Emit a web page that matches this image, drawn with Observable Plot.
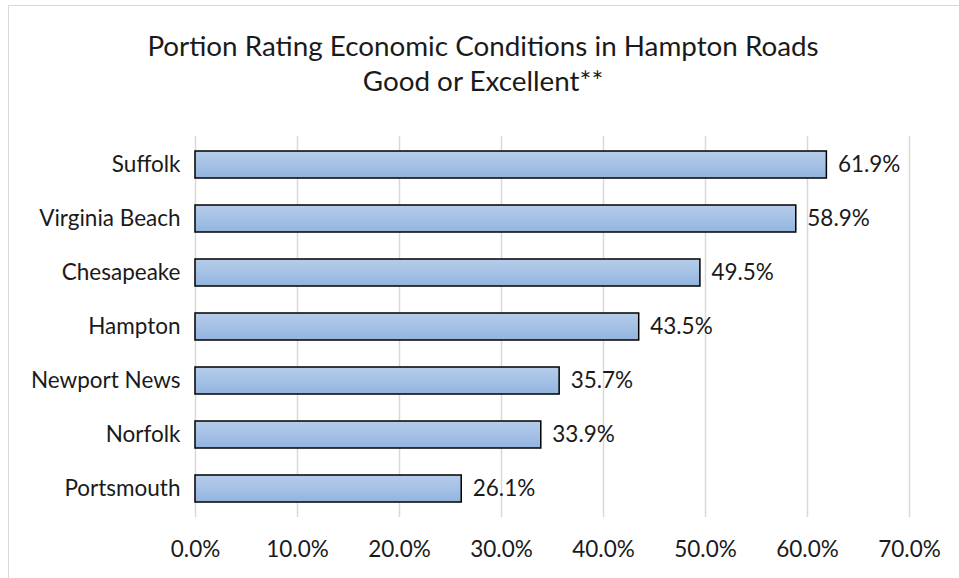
<!DOCTYPE html>
<html>
<head>
<meta charset="utf-8">
<script src="https://cdn.jsdelivr.net/npm/d3@7"></script>
<script src="https://cdn.jsdelivr.net/npm/@observablehq/plot@0.6"></script>
<style>
  html, body { margin: 0; padding: 0; background: #fff; }
  #wrap { position: relative; width: 959px; height: 578px; overflow: hidden; font-family: Lato, "Open Sans", sans-serif; }
  #frame { position: absolute; left: 8px; top: 5px; width: 958px; height: 600px; border: 1.5px solid #d9d9d9; box-sizing: border-box; }
  #title { position: absolute; left: 0; width: 966px; top: 28px; text-align: center; font-size: 27.8px; line-height: 35px; color: #1a1a1a; }
  #chart { position: absolute; left: 0; top: 0; }
</style>
</head>
<body>
<div id="wrap">
  <div id="frame"></div>
  <div id="title">Portion Rating Economic Conditions in Hampton Roads<br>Good or Excellent**</div>
  <div id="chart"></div>
</div>
<script>
const cities = ["Suffolk", "Virginia Beach", "Chesapeake", "Hampton", "Newport News", "Norfolk", "Portsmouth"];
const values = [61.9, 58.9, 49.5, 43.5, 35.7, 33.9, 26.1];
const xTicks = [0, 10, 20, 30, 40, 50, 60, 70];

const data = cities.map((c, i) => ({city: c, value: values[i]}));
const fmt = d => d.toFixed(1) + "%";

const plot = Plot.plot({
  width: 959,
  height: 578,
  marginTop: 136,
  marginBottom: 61,
  marginLeft: 195,
  marginRight: 50,
  style: {fontFamily: "Lato, 'Open Sans', sans-serif", fontSize: "22.5px", color: "#1a1a1a", background: "transparent"},
  x: {domain: [0, 70], label: null},
  y: {domain: cities, label: null, paddingInner: 0.5, paddingOuter: 0.25},
  marks: [
    Plot.gridX(xTicks, {stroke: "#d9d9d9", strokeOpacity: 1, strokeWidth: 1.5}),
    Plot.barX(data, {x: "value", y: "city", fill: "url(#barGrad)", stroke: "#000", strokeWidth: 1.5}),
    Plot.text(data, {x: "value", y: "city", text: d => fmt(d.value), textAnchor: "start", dx: 11, fontSize: 22.5, fill: "#1a1a1a"}),
    Plot.axisX(xTicks, {tickFormat: fmt, tickSize: 0, tickPadding: 24, fontSize: 22.5, label: null, fill: "#1a1a1a"}),
    Plot.axisY({tickSize: 0, tickPadding: 15, fontSize: 22.5, label: null, fill: "#1a1a1a"})
  ]
});

const defs = d3.select(plot).insert("defs", ":first-child");
const g = defs.append("linearGradient").attr("id", "barGrad").attr("x1", 0).attr("y1", 0).attr("x2", 0).attr("y2", 1);
g.append("stop").attr("offset", "0%").attr("stop-color", "#b6cdeb");
g.append("stop").attr("offset", "100%").attr("stop-color", "#93b4df");

document.getElementById("chart").appendChild(plot);
</script>
</body>
</html>
